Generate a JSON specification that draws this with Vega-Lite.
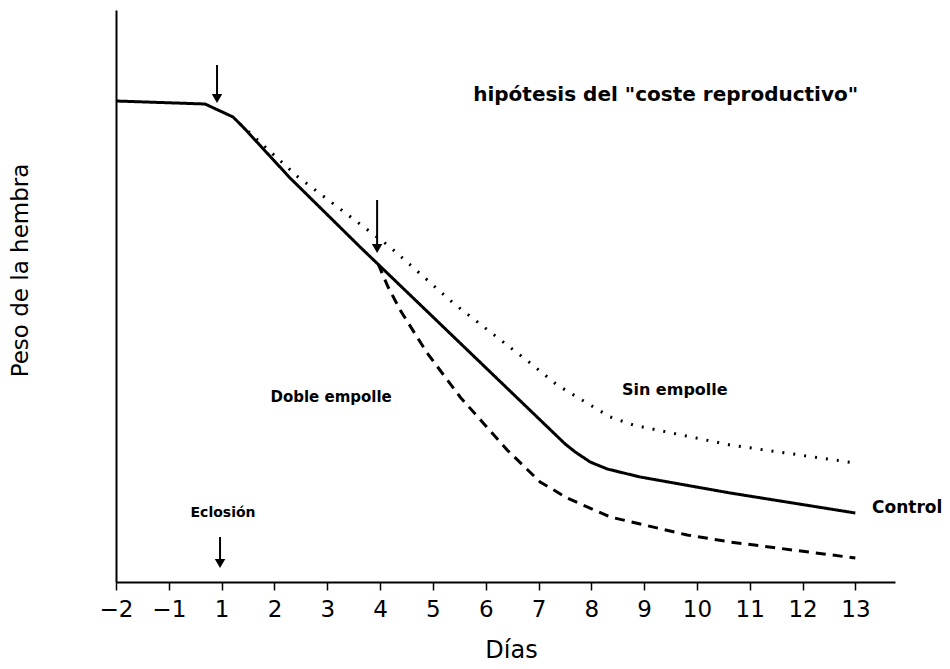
{
  "$schema": "https://vega.github.io/schema/vega-lite/v6.json",
  "width": 779,
  "height": 572,
  "autosize": {"type": "none"},
  "padding": {"left": 116, "top": 10, "right": 55, "bottom": 87},
  "background": "white",
  "config": {"view": {"stroke": null}, "font": "DejaVu Sans"},
  "datasets": {
    "curves": [
      {"serie": "Control", "p": 0, "peso": 481},
      {"serie": "Control", "p": 1.686, "peso": 478},
      {"serie": "Control", "p": 2.216, "peso": 465},
      {"serie": "Control", "p": 2.406, "peso": 455},
      {"serie": "Control", "p": 3.296, "peso": 404},
      {"serie": "Control", "p": 4.622, "peso": 335},
      {"serie": "Control", "p": 8.505, "peso": 138},
      {"serie": "Control", "p": 8.695, "peso": 130},
      {"serie": "Control", "p": 8.979, "peso": 120},
      {"serie": "Control", "p": 9.301, "peso": 113},
      {"serie": "Control", "p": 9.926, "peso": 105},
      {"serie": "Control", "p": 11.631, "peso": 89},
      {"serie": "Control", "p": 13.999, "peso": 69},
      {"serie": "Sin empolle", "p": 2.349, "peso": 458},
      {"serie": "Sin empolle", "p": 3.448, "peso": 405},
      {"serie": "Sin empolle", "p": 5.19, "peso": 335},
      {"serie": "Sin empolle", "p": 6.384, "peso": 279},
      {"serie": "Sin empolle", "p": 7.842, "peso": 219},
      {"serie": "Sin empolle", "p": 8.354, "peso": 197},
      {"serie": "Sin empolle", "p": 8.979, "peso": 177},
      {"serie": "Sin empolle", "p": 9.358, "peso": 165},
      {"serie": "Sin empolle", "p": 9.794, "peso": 157},
      {"serie": "Sin empolle", "p": 10.248, "peso": 152},
      {"serie": "Sin empolle", "p": 11.631, "peso": 137},
      {"serie": "Sin empolle", "p": 13.999, "peso": 119},
      {"serie": "Doble empolle", "p": 4.963, "peso": 318},
      {"serie": "Doble empolle", "p": 5.152, "peso": 295},
      {"serie": "Doble empolle", "p": 5.38, "peso": 272},
      {"serie": "Doble empolle", "p": 5.891, "peso": 229},
      {"serie": "Doble empolle", "p": 6.516, "peso": 185},
      {"serie": "Doble empolle", "p": 6.952, "peso": 159},
      {"serie": "Doble empolle", "p": 7.407, "peso": 132},
      {"serie": "Doble empolle", "p": 8.032, "peso": 100},
      {"serie": "Doble empolle", "p": 8.543, "peso": 84},
      {"serie": "Doble empolle", "p": 9.358, "peso": 65},
      {"serie": "Doble empolle", "p": 10.816, "peso": 47},
      {"serie": "Doble empolle", "p": 11.631, "peso": 40},
      {"serie": "Doble empolle", "p": 13.999, "peso": 24}
    ],
    "arrows": [
      {"p": 1.913, "top": 517, "bottom": 487, "head": 483.5},
      {"p": 4.944, "top": 382, "bottom": 337, "head": 333.5},
      {"p": 1.97, "top": 45, "bottom": 22, "head": 18.5}
    ],
    "labels": [
      {"p": 4.073, "peso": 185, "text": "Doble empolle", "size": 15},
      {"p": 10.58, "peso": 192, "text": "Sin empolle", "size": 16},
      {"p": 14.98, "peso": 74, "text": "Control", "size": 17},
      {"p": 2.027, "peso": 69, "text": "Eclosión", "size": 14}
    ],
    "titulo": [
      {"p": 6.763, "peso": 487, "text": "hipótesis del \"coste reproductivo\""}
    ]
  },
  "layer": [
    {
      "data": {"name": "curves"},
      "mark": {"type": "line", "color": "black"},
      "encoding": {
        "x": {
          "field": "p", "type": "quantitative",
          "scale": {"domain": [0, 14.75], "nice": false, "zero": false},
          "axis": {
            "values": [0, 1, 2, 3, 4, 5, 6, 7, 8, 9, 10, 11, 12, 13, 14],
            "labelExpr": "datum.value < 2 ? '−' + (2 - datum.value) : '' + (datum.value - 1)",
            "labelOverlap": false, "labelFlush": false, "labelBound": false,
            "grid": false,
            "domainColor": "black", "domainWidth": 2,
            "tickColor": "black", "tickWidth": 1.5, "tickSize": 8,
            "labelFontSize": 23, "labelColor": "black", "labelPadding": 8,
            "labelFont": "DejaVu Sans",
            "title": "Días",
            "titleFontSize": 24, "titleFontWeight": "normal", "titleColor": "black",
            "titleX": 395, "titleY": 68, "titleBaseline": "middle", "titleAlign": "center"
          }
        },
        "y": {
          "field": "peso", "type": "quantitative",
          "scale": {"domain": [0, 572], "nice": false, "zero": false},
          "axis": {
            "grid": false, "ticks": false, "labels": false,
            "domainColor": "black", "domainWidth": 2,
            "title": "Peso de la hembra",
            "titleFontSize": 23, "titleFontWeight": "normal", "titleColor": "black",
            "titleX": -96, "titleY": 260, "titleAngle": -90,
            "titleBaseline": "middle", "titleAlign": "center"
          }
        },
        "detail": {"field": "serie"},
        "strokeDash": {
          "field": "serie", "type": "nominal",
          "scale": {"domain": ["Control", "Sin empolle", "Doble empolle"], "range": [[1, 0], [2, 9], [10, 7]]},
          "legend": null
        },
        "strokeWidth": {
          "field": "serie", "type": "nominal",
          "scale": {"domain": ["Control", "Sin empolle", "Doble empolle"], "range": [3, 3, 2.5]},
          "legend": null
        }
      }
    },
    {
      "data": {"name": "arrows"},
      "mark": {"type": "rule", "color": "black", "strokeWidth": 2},
      "encoding": {
        "x": {"field": "p", "type": "quantitative"},
        "y": {"field": "top", "type": "quantitative"},
        "y2": {"field": "bottom"}
      }
    },
    {
      "data": {"name": "arrows"},
      "mark": {"type": "point", "shape": "triangle-down", "filled": true, "color": "black", "size": 110, "opacity": 1},
      "encoding": {
        "x": {"field": "p", "type": "quantitative"},
        "y": {"field": "head", "type": "quantitative"}
      }
    },
    {
      "data": {"name": "labels"},
      "mark": {"type": "text", "fontWeight": "bold", "color": "black", "baseline": "middle", "align": "center", "font": "DejaVu Sans"},
      "encoding": {
        "x": {"field": "p", "type": "quantitative"},
        "y": {"field": "peso", "type": "quantitative"},
        "text": {"field": "text"},
        "size": {"field": "size", "type": "quantitative", "scale": null}
      }
    },
    {
      "data": {"name": "titulo"},
      "mark": {"type": "text", "fontWeight": "bold", "color": "black", "baseline": "middle", "align": "left", "fontSize": 20, "font": "DejaVu Sans"},
      "encoding": {
        "x": {"field": "p", "type": "quantitative"},
        "y": {"field": "peso", "type": "quantitative"},
        "text": {"field": "text"}
      }
    }
  ]
}
